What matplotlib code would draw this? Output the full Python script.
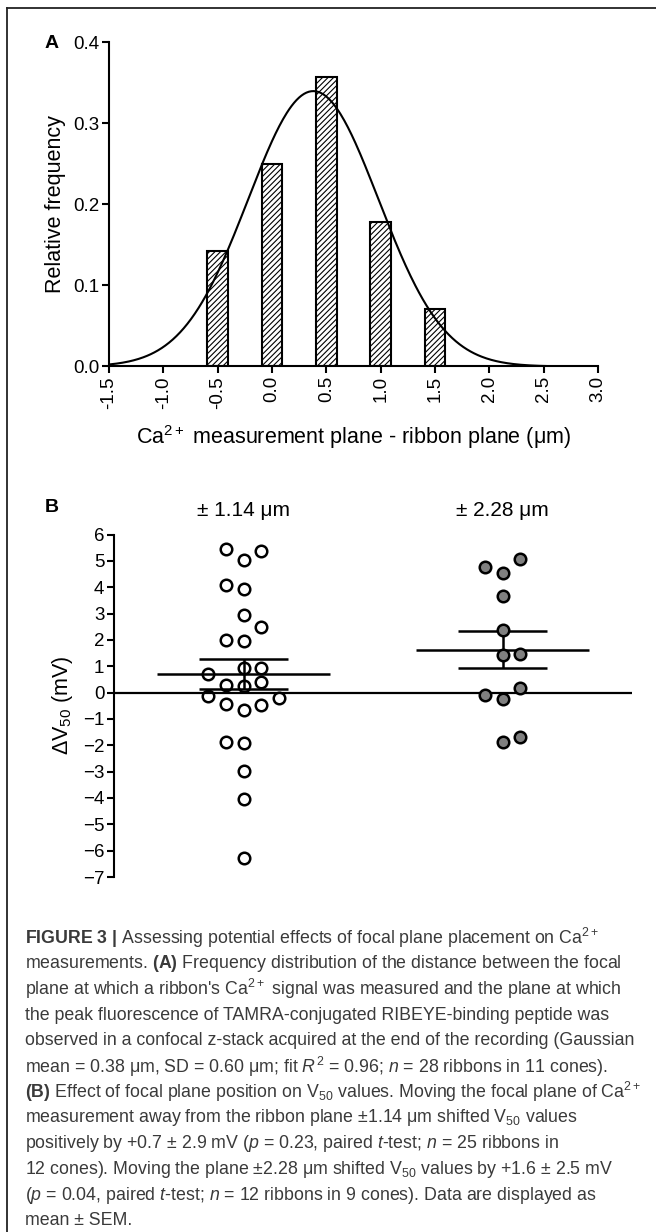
import numpy as np
import matplotlib.pyplot as plt
from matplotlib.lines import Line2D
import matplotlib.transforms as mtransforms

plt.rcParams['font.family'] = ['Liberation Sans', 'DejaVu Sans']
plt.rcParams['mathtext.fontset'] = 'custom'
plt.rcParams['mathtext.rm'] = 'Liberation Sans'
plt.rcParams['mathtext.it'] = 'Liberation Sans:italic'
plt.rcParams['mathtext.bf'] = 'Liberation Sans:bold'
plt.rcParams['hatch.linewidth'] = 0.8

# Panel A: histogram of plane offsets (28 ribbons) and Gaussian fit
bin_centers = [-0.5, 0.0, 0.5, 1.0, 1.5]
rel_freq = [4 / 28, 7 / 28, 10 / 28, 5 / 28, 2 / 28]
fit_mean = 0.38
fit_sd = 0.60
fit_peak = 0.34
xticks_a = [-1.5, -1.0, -0.5, 0.0, 0.5, 1.0, 1.5, 2.0, 2.5, 3.0]
yticks_a = [0.0, 0.1, 0.2, 0.3, 0.4]

# Panel B: delta V50 per ribbon
group_labels = ['± 1.14 μm', '± 2.28 μm']
dv50_114 = [5.46, 5.02, 5.36, 4.08, 3.92, 2.93, 2.48, 1.98, 1.95, 0.94, 0.94, 0.71, 0.39,
            0.28, 0.24, -0.14, -0.20, -0.43, -0.48, -0.68, -1.89, -1.91, -2.99, -4.04, -6.26]
jitter_114 = [-1, 0, 1, -1, 0, 0, 1, -1, 0, 0, 1, -2, 1,
              -1, 0, -2, 2, -1, 1, 0, -1, 0, 0, 0, 0]
dv50_228 = [4.76, 4.52, 5.06, 3.66, 2.36, 1.44, 1.47, 0.18, -0.10, -0.24, -1.69, -1.87]
jitter_228 = [-1, 0, 1, 0, 0, 0, 1, 1, -1, 0, 1, 0]
yticks_b = list(range(-7, 7))

caption_lines = [
    r'$\mathbf{FIGURE\ 3\ |}$ Assessing potential effects of focal plane placement on Ca$^{2+}$',
    r'measurements. $\mathbf{(A)}$ Frequency distribution of the distance between the focal',
    r"plane at which a ribbon's Ca$^{2+}$ signal was measured and the plane at which",
    r'the peak fluorescence of TAMRA-conjugated RIBEYE-binding peptide was',
    r'observed in a confocal z-stack acquired at the end of the recording (Gaussian',
    r'mean = 0.38 μm, SD = 0.60 μm; fit $\mathit{R}^2$ = 0.96; $\mathit{n}$ = 28 ribbons in 11 cones).',
    r'$\mathbf{(B)}$ Effect of focal plane position on V$_{50}$ values. Moving the focal plane of Ca$^{2+}$',
    r'measurement away from the ribbon plane ±1.14 μm shifted V$_{50}$ values',
    r'positively by +0.7 ± 2.9 mV ($\mathit{p}$ = 0.23, paired $\mathit{t}$-test; $\mathit{n}$ = 25 ribbons in',
    r'12 cones). Moving the plane ±2.28 μm shifted V$_{50}$ values by +1.6 ± 2.5 mV',
    r'($\mathit{p}$ = 0.04, paired $\mathit{t}$-test; $\mathit{n}$ = 12 ribbons in 9 cones). Data are displayed as',
    r'mean ± SEM.',
]

W, H = 656, 1232
fig = plt.figure(figsize=(W / 100, H / 100), dpi=100)

# frame (top and left rules)
fig.add_artist(Line2D([7 / W, 1], [1 - 8 / H, 1 - 8 / H], transform=fig.transFigure, color='#222222', lw=1.3))
fig.add_artist(Line2D([7 / W, 7 / W], [0, 1 - 8 / H], transform=fig.transFigure, color='#222222', lw=1.3))

# ---- Panel A ----
axA = fig.add_axes([109 / W, 1 - 366.5 / H, 489 / W, 324 / H])
axA.bar(bin_centers, rel_freq, width=0.19, color='white', edgecolor='black',
        hatch='//////', linewidth=1.5, zorder=2)
xs = np.linspace(xticks_a[0], xticks_a[-1], 400)
axA.plot(xs, fit_peak * np.exp(-(xs - fit_mean) ** 2 / (2 * fit_sd ** 2)), color='black', lw=1.5, zorder=3)
axA.set_xlim(-1.5, 3.0)
axA.set_ylim(0, 0.4)
axA.set_xticks(xticks_a)
axA.set_xticklabels([f'{t:.1f}' for t in xticks_a], rotation=90)
axA.set_yticks(yticks_a)
axA.set_yticklabels([f'{t:.1f}' for t in yticks_a])
for s in ['top', 'right']:
    axA.spines[s].set_visible(False)
for s in ['left', 'bottom']:
    axA.spines[s].set_linewidth(1.5)
axA.tick_params(direction='out', length=5, width=1.5, labelsize=13.5, pad=2)
axA.set_ylabel('Relative frequency', fontsize=15.5)
axA.yaxis.set_label_coords(-0.088, 0.5)
axA.set_xlabel('Ca$^{2+}$ measurement plane - ribbon plane (μm)', fontsize=15.5, labelpad=10)
fig.text(52 / W, 1 - 43 / H, 'A', fontsize=14, weight='bold', ha='center', va='center')

# ---- Panel B ----
axB = fig.add_axes([114 / W, 1 - 877 / H, 518 / W, 342.5 / H])
axB.set_xlim(0.5, 2.5)
axB.set_ylim(-7, 6)
axB.axhline(0, color='black', lw=1.6, zorder=1)
groups = [(dv50_114, jitter_114, 'none'), (dv50_228, jitter_228, '#808080')]
for i, (vals, jit, fc) in enumerate(groups):
    xc = i + 1
    v = np.array(vals)
    m = v.mean()
    sem = v.std(ddof=1) / np.sqrt(len(v))
    axB.hlines(m, xc - 0.335, xc + 0.335, color='black', lw=1.8, zorder=2)
    axB.hlines([m - sem, m + sem], xc - 0.17, xc + 0.17, color='black', lw=1.8, zorder=2)
    axB.vlines(xc, m - sem, m + sem, color='black', lw=1.8, zorder=2)
    axB.plot(xc + np.array(jit) * 0.068, v, 'o', ms=8.3, mew=1.8, mfc=fc, mec='black',
             zorder=3, clip_on=False)
trans = mtransforms.blended_transform_factory(axB.transData, axB.transAxes)
for i, lab in enumerate(group_labels):
    axB.text(i + 1, 1.0715, lab, transform=trans, ha='center', va='center', fontsize=15)
axB.set_yticks(yticks_b)
axB.set_xticks([])
for s in ['top', 'right', 'bottom']:
    axB.spines[s].set_visible(False)
axB.spines['left'].set_linewidth(1.5)
axB.tick_params(axis='y', direction='out', length=5, width=1.5, labelsize=13.5, pad=2)
axB.set_ylabel('ΔV$_{50}$ (mV)', fontsize=15.5)
axB.yaxis.set_label_coords(-0.075, 0.5)
fig.text(52 / W, 1 - 508 / H, 'B', fontsize=14, weight='bold', ha='center', va='center')

# ---- Caption ----
for k, line in enumerate(caption_lines):
    fig.text(25 / W, 1 - (938 + 25.7 * k) / H, line, fontsize=12.8, color='#3a3a3a',
             ha='left', va='center')

fig.savefig('out.png', dpi=100)
